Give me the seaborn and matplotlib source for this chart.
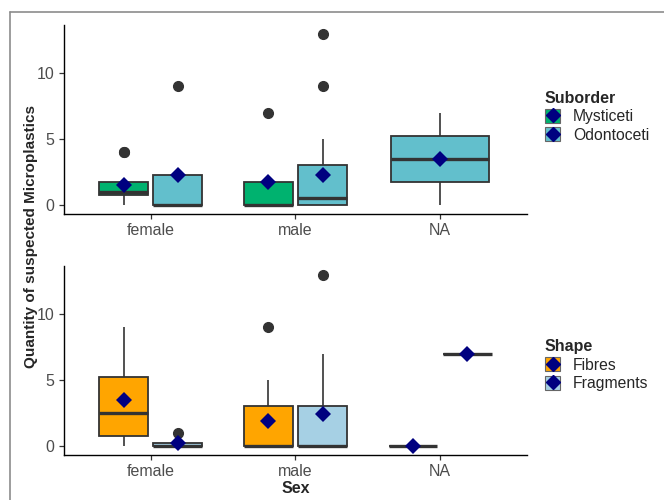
import pandas as pd
import seaborn as sns
import matplotlib.pyplot as plt
from matplotlib.patches import Patch
from matplotlib.lines import Line2D

# ---- data (counts per animal) ----
sex_order = ["female", "male", "NA"]
suborders = ["Mysticeti", "Odontoceti"]
shapes = ["Fibres", "Fragments"]

fem_myst = [0, 0, 1, 1, 1, 1, 4, 4]
fem_odon = [0, 0, 0, 9]
male_myst = [0, 0, 0, 7]
male_odon = [0, 0, 0, 0, 0, 0, 0, 0, 1, 1, 1, 3, 3, 5, 9, 13]
na_odon = [0, 7]

fem_fib = [0, 1, 4, 9]
fem_frag = [0, 0, 0, 1]
male_fib = [0, 0, 0, 0, 0, 0, 3, 5, 9]
male_frag = [0, 0, 0, 0, 0, 0, 0, 4, 7, 13]
na_fib = [0]
na_frag = [7]

sub_colors = {"Mysticeti": "#00B26F", "Odontoceti": "#62BFCC"}
shape_colors = {"Fibres": "#FFA500", "Fragments": "#A6D0E4"}


def frame(groups, col):
    rows = []
    for sex, grp, vals in groups:
        for v in vals:
            rows.append({"Sex": sex, col: grp, "Count": v})
    return pd.DataFrame(rows)


top = frame([("female", "Mysticeti", fem_myst), ("female", "Odontoceti", fem_odon),
             ("male", "Mysticeti", male_myst), ("male", "Odontoceti", male_odon),
             ("NA", "Odontoceti", na_odon)], "Suborder")
bot = frame([("female", "Fibres", fem_fib), ("female", "Fragments", fem_frag),
             ("male", "Fibres", male_fib), ("male", "Fragments", male_frag),
             ("NA", "Fibres", na_fib), ("NA", "Fragments", na_frag)], "Shape")

sns.set_style("ticks")
plt.rcParams['font.family'] = ['Liberation Sans', 'DejaVu Sans']

fig = plt.figure(figsize=(6.64, 5.0), dpi=100)
ax1 = fig.add_axes([0.0964, 0.5728, 0.697, 0.3772])
ax2 = fig.add_axes([0.0964, 0.0908, 0.697, 0.3772])

box_kw = dict(linewidth=1.3, linecolor="#333333", showcaps=False, saturation=1,
              medianprops=dict(linewidth=2.4, color="#333333"),
              whiskerprops=dict(linewidth=1.2, color="#333333"),
              flierprops=dict(marker="o", markersize=7, markerfacecolor="#333333",
                              markeredgecolor="#333333"))
pt_kw = dict(estimator="mean", errorbar=None, markers="D", linestyles="none",
             markersize=8.5, markeredgewidth=0, legend=False, zorder=10)


def panel(ax, df, col, levels, colors, single_na, leg_y):
    pal_pts = {k: "#000080" for k in levels}
    if single_na:
        main = df[df["Sex"] != "NA"]
        rest = df[df["Sex"] == "NA"]
    else:
        main, rest = df, None
    sns.boxplot(data=main, x="Sex", y="Count", hue=col, order=sex_order, hue_order=levels,
                palette=colors, width=0.75, gap=0.1, dodge=True, legend=False, ax=ax, **box_kw)
    sns.pointplot(data=main, x="Sex", y="Count", hue=col, order=sex_order, hue_order=levels,
                  palette=pal_pts, dodge=0.375, ax=ax, **pt_kw)
    if rest is not None:
        sns.boxplot(data=rest, x="Sex", y="Count", hue=col, order=sex_order, hue_order=levels,
                    palette=colors, width=0.68, dodge=False, legend=False, ax=ax, **box_kw)
        sns.pointplot(data=rest, x="Sex", y="Count", hue=col, order=sex_order, hue_order=levels,
                      palette=pal_pts, dodge=False, ax=ax, **pt_kw)
    ax.set_xlim(-0.6, 2.6)
    ax.set_ylim(-0.65, 13.65)
    ax.set_yticks([0, 5, 10])
    ax.set_ylabel("")
    ax.tick_params(axis="both", labelsize=11.5, labelcolor="#4D4D4D", color="#333333",
                   length=3.5, width=0.9)
    sns.despine(ax=ax)
    for s in ["left", "bottom"]:
        ax.spines[s].set_color("black")
        ax.spines[s].set_linewidth(1.0)

    handles = [(Patch(facecolor=colors[k], edgecolor="#666666", linewidth=0.8),
                Line2D([], [], marker="D", color="#000080", linestyle="none", markersize=7))
               for k in levels]
    leg = ax.legend(handles, levels, title=col, loc="upper left", bbox_to_anchor=(1.025, leg_y),
                    frameon=False, fontsize=11.3, handlelength=1.0, handleheight=1.0,
                    handletextpad=0.8, labelspacing=0.2, borderaxespad=0)
    leg.get_title().set_fontweight("bold")
    leg.get_title().set_fontsize(11.5)
    leg._legend_box.align = "left"


panel(ax1, top, "Suborder", suborders, sub_colors, True, 0.685)
panel(ax2, bot, "Shape", shapes, shape_colors, False, 0.645)

ax1.set_xlabel("")
ax2.set_xlabel("Sex", fontsize=11.5, fontweight="bold", labelpad=1)
fig.text(31 / 664, 1 - 237 / 500, "Quantity of suspected Microplastics", rotation=90,
         ha="center", va="center", fontsize=11, fontweight="bold")

# outer grey frame
fig.add_artist(Line2D([10 / 664, 1], [1 - 12 / 500, 1 - 12 / 500], color="#8C8C8C", linewidth=1.2))
fig.add_artist(Line2D([10 / 664, 10 / 664], [0, 1 - 12 / 500], color="#8C8C8C", linewidth=1.2))

fig.savefig("out.png", dpi=100)
